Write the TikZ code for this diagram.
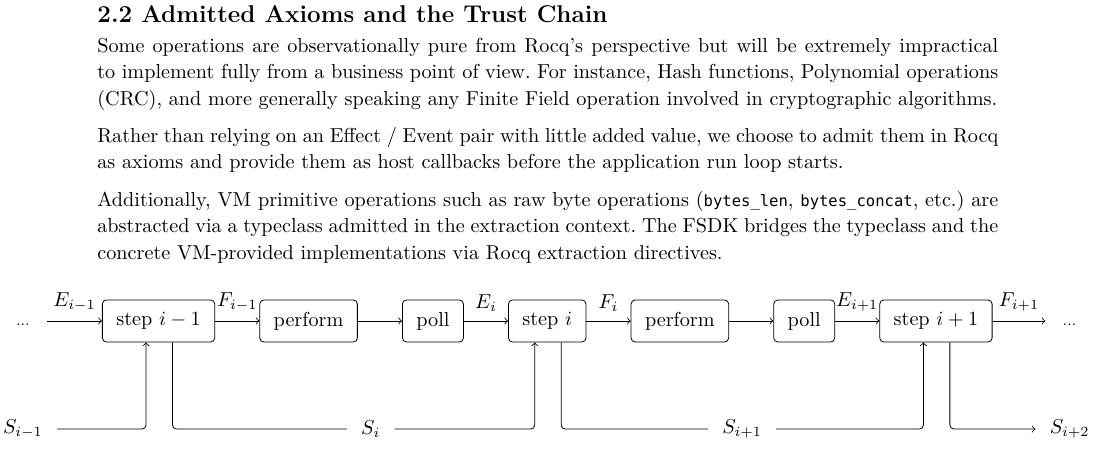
\documentclass[tikz,border=0pt]{standalone}
\usepackage{fontspec}
\newfontfamily\codefont{DejaVu Sans Mono}[Scale=0.77]
\usepackage{tikz}
\usetikzlibrary{calc,positioning}

\begin{document}
\begin{tikzpicture}[node distance=21.9pt,
    stepbox/.style={draw,rounded corners=2pt,inner xsep=6.9pt,minimum height=20.8pt},
    para/.style={anchor=base west,inner sep=0pt,text width=446pt,align=justify,font=\fontsize{10}{13}\selectfont\frenchspacing},
    dots/.style={minimum width=23.5pt,inner sep=0pt},
    sig/.style={inner sep=4.5pt},
    state/.style={inner xsep=6.9pt},
    wire/.style={rounded corners=2pt}]
  \useasboundingbox (0,0) rectangle (541.6pt,-222.8pt);
  % section text
  \node[anchor=base west,inner sep=0pt,font=\large\bfseries] (title) at (48pt,-11.2pt) {2.2 Admitted Axioms and the Trust Chain};
  \node[para] (intro) at (48pt,-26.1pt) {Some operations are observationally pure from Rocq's perspective but will be extremely impractical to implement fully from a business point of view. For instance, Hash functions, Polynomial operations (CRC), and more generally speaking any Finite Field operation involved in cryptographic algorithms.};
  \node[para] (axioms) at (48pt,-70.6pt) {Rather than relying on an Effect / Event pair with little added value, we choose to admit them in Rocq as axioms and provide them as host callbacks before the application run loop starts.};
  \node[para] (prims) at (48pt,-102.3pt) {Additionally, VM primitive operations such as raw byte operations ({\codefont bytes\_len}, {\codefont bytes\_concat}, etc.) are abstracted via a typeclass admitted in the extraction context. The FSDK bridges the typeclass and the concrete VM-provided implementations via Rocq extraction directives.};
  % run loop
  \node[stepbox] (step1) at (78.5pt,-158.9pt) {step $i-1$};
  \node[stepbox,right=of step1] (perf1) {perform};
  \node[stepbox,right=of perf1] (poll1) {poll};
  \node[stepbox,right=of poll1] (step2) {step $i$};
  \node[stepbox,right=of step2] (perf2) {perform};
  \node[stepbox,right=of perf2] (poll2) {poll};
  \node[stepbox,right=of poll2] (step3) {step $i+1$};
  \node[dots,left=27.2pt of step1] (dotsL) {\strut\scriptsize...};
  \node[dots,right=26.2pt of step3] (dotsR) {\strut\scriptsize...};
  \draw[->] (dotsL) -- (step1) node[midway,above,sig] {$E_{i-1}$};
  \draw[->] (step1) -- (perf1) node[midway,above,sig] {$F_{i-1}$};
  \draw[->] (perf1) -- (poll1);
  \draw[->] (poll1) -- (step2) node[midway,above,sig] {$E_i$};
  \draw[->] (step2) -- (perf2) node[midway,above,sig] {$F_i$};
  \draw[->] (perf2) -- (poll2);
  \draw[->] (poll2) -- (step3) node[midway,above,sig] {$E_{i+1}$};
  \draw[->] (step3) -- (dotsR) node[midway,above,sig] {$F_{i+1}$};
  % states
  \coordinate (low) at (0,-212.4pt);
  \coordinate (mid1) at ($(perf1)!0.5!(poll1)$);
  \coordinate (mid2) at ($(perf2)!0.5!(poll2)$);
  \node[state] (sprev) at (dotsL |- low) {$S_{i-1}$};
  \node[state] (scur) at (mid1 |- low) {$S_i$};
  \node[state] (snext) at (mid2 |- low) {$S_{i+1}$};
  \node[state] (safter) at (dotsR |- low) {$S_{i+2}$};
  \draw[->,wire] (sprev) -| ([xshift=-6.2pt]step1.south);
  \draw[wire] ([xshift=6.9pt]step1.south) |- (scur);
  \draw[->,wire] (scur) -| ([xshift=-6.2pt]step2.south);
  \draw[wire] ([xshift=6.9pt]step2.south) |- (snext);
  \draw[->,wire] (snext) -| ([xshift=-6.2pt]step3.south);
  \draw[->,wire] ([xshift=6.9pt]step3.south) |- (safter);
\end{tikzpicture}
\end{document}
